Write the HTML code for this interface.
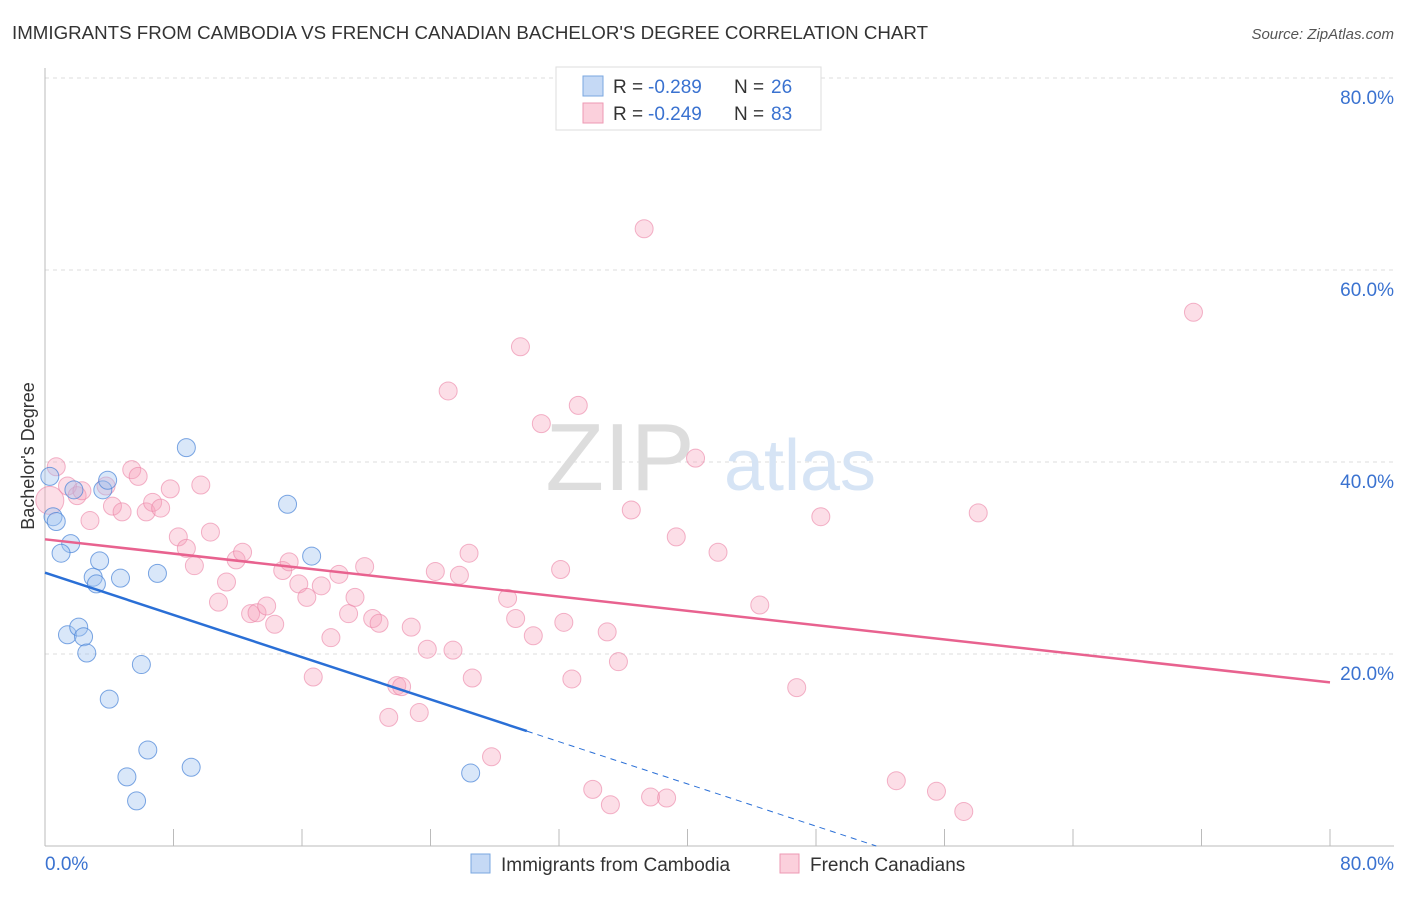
<!DOCTYPE html>
<html><head><meta charset="utf-8"><style>
body{margin:0;background:#fff;font-family:"Liberation Sans",sans-serif;}
svg text{font-family:"Liberation Sans",sans-serif;}
</style></head><body>
<svg width="1406" height="892">
<text x="12" y="39" font-size="18" fill="#333" textLength="916" lengthAdjust="spacingAndGlyphs">IMMIGRANTS FROM CAMBODIA VS FRENCH CANADIAN BACHELOR'S DEGREE CORRELATION CHART</text>
<text x="1394" y="39" font-size="15" fill="#555" text-anchor="end" font-style="italic">Source: ZipAtlas.com</text>
<g id="grid"></g>
<text x="620" y="490" font-size="96" fill="#ddd" font-family="Liberation Serif" text-anchor="middle">ZIP</text>
<text x="800" y="490" font-size="72" fill="#d6e4f5" text-anchor="middle">atlas</text>
<g id="marks"></g>
<text x="34" y="456" font-size="18" fill="#333" transform="rotate(-90 34 456)" text-anchor="middle">Bachelor's Degree</text>
<g>
<rect x="556" y="67" width="265" height="63" fill="#fff" stroke="#ddd"/>
<rect x="583" y="76" width="20" height="20" fill="#c5d9f5" stroke="#7aa7e0"/>
<rect x="583" y="103" width="20" height="20" fill="#fbd0dc" stroke="#ee99b3"/>
<text x="613" y="93" font-size="19" fill="#333">R =</text>
<text x="648" y="93" font-size="19" fill="#3a72d0">-0.289</text>
<text x="734" y="93" font-size="19" fill="#333">N =</text>
<text x="771" y="93" font-size="19" fill="#3a72d0">26</text>
<text x="613" y="120" font-size="19" fill="#333">R =</text>
<text x="648" y="120" font-size="19" fill="#3a72d0">-0.249</text>
<text x="734" y="120" font-size="19" fill="#333">N =</text>
<text x="771" y="120" font-size="19" fill="#3a72d0">83</text>
</g>
<g>
<rect x="471" y="854" width="19" height="19" fill="#c5d9f5" stroke="#7aa7e0"/>
<text x="501" y="871" font-size="19" fill="#333">Immigrants from Cambodia</text>
<rect x="780" y="854" width="19" height="19" fill="#fbd0dc" stroke="#ee99b3"/>
<text x="810" y="871" font-size="19" fill="#333">French Canadians</text>
</g>
</svg>
<script>
const yTicks=[20,40,60,80];
const xTickLabels=["0.0%","80.0%"];
const blueX=[0.3,0.5,0.7,1.8,3.6,3.9,1.6,1.0,3.4,3.0,3.2,4.7,7.0,8.8,15.1,16.6,1.4,2.1,2.4,2.6,6.0,4.0,6.4,5.1,5.7,9.1,26.5];
const blueY=[38.5,34.3,33.8,37.1,37.1,38.1,31.5,30.5,29.7,28.0,27.3,27.9,28.4,41.5,35.6,30.2,22.0,22.8,21.8,20.1,18.9,15.3,10.0,7.2,4.7,8.2,7.6];
const pinkX=[0.7,0.3,1.4,2.0,2.3,2.8,3.8,4.2,4.8,5.4,5.8,6.3,6.7,7.2,7.8,8.3,8.8,9.3,9.7,10.3,10.8,11.3,11.9,12.3,12.8,13.2,13.8,14.3,14.8,15.2,15.8,16.3,16.7,17.2,17.8,18.3,18.9,19.3,19.9,20.4,20.8,21.4,21.9,22.2,22.8,23.3,23.8,24.3,25.4,25.8,26.4,26.6,25.1,27.8,28.8,29.3,29.6,30.4,30.9,32.1,32.3,32.8,33.2,34.1,35.0,35.2,35.7,36.5,37.3,37.7,38.7,39.3,40.5,41.9,44.5,46.8,48.3,53.0,55.5,57.2,58.1,71.5];
const pinkY=[39.5,36.0,37.5,36.5,37.0,33.9,37.5,35.4,34.8,39.2,38.5,34.8,35.8,35.2,37.2,32.2,31.0,29.2,37.6,32.7,25.4,27.5,29.8,30.6,24.2,24.3,25.0,23.1,28.7,29.6,27.3,25.9,17.6,27.1,21.7,28.3,24.2,25.9,29.1,23.7,23.2,13.4,16.7,16.6,22.8,13.9,20.5,28.6,20.4,28.2,30.5,17.5,47.4,9.3,25.8,23.7,52.0,21.9,44.0,28.8,23.3,17.4,45.9,5.9,22.3,4.3,19.2,35.0,64.3,5.1,5.0,32.2,40.4,30.6,25.1,16.5,34.3,6.8,5.7,3.6,34.7,55.6];
const NS='http://www.w3.org/2000/svg';
const X=v=>45+v/80*1285, Y=v=>846-v/20*192;
function mk(tag,attrs,parent){const e=document.createElementNS(NS,tag);for(const k in attrs)e.setAttribute(k,attrs[k]);parent.appendChild(e);return e;}
const grid=document.getElementById('grid'),marks=document.getElementById('marks');
yTicks.forEach(t=>{
 const l=mk('line',{x1:45,x2:1394,y1:Y(t),y2:Y(t),stroke:'#ddd','stroke-dasharray':'4,4'},grid);
 
 
 const tx=mk('text',{x:1394,y:Y(t)+26,'font-size':19,fill:'#3a72d0','text-anchor':'end'},grid);
 tx.textContent=t.toFixed(1)+'%';
 
 
});
const ax=mk('line',{x1:45,x2:1394,y1:846,y2:846,stroke:'#bbb'},grid);


const ay=mk('line',{x1:45,x2:45,y1:68,y2:846,stroke:'#bbb'},grid);


for(let i=1;i<=10;i++){const t=mk('line',{x1:45+i*128.5,x2:45+i*128.5,y1:829,y2:846,stroke:'#bbb'},grid);
 
 }
xTickLabels.forEach((s,i)=>{const t=mk('text',{x:i?1394:45,y:870,'font-size':19,fill:'#3a72d0','text-anchor':i?'end':'start'},grid);t.textContent=s;
 
 });
pinkX.forEach((x,i)=>{const c=mk('circle',{cx:X(x),cy:Y(pinkY[i]),r:i==1?14:9,fill:'rgba(245,160,185,0.35)',stroke:'rgba(235,130,165,0.6)'},marks);
 
 });
blueX.forEach((x,i)=>{const c=mk('circle',{cx:X(x),cy:Y(blueY[i]),r:9,fill:'rgba(160,195,240,0.4)',stroke:'rgba(70,130,215,0.7)'},marks);
 
 });
function fit(xs,ys){const n=xs.length,mx=xs.reduce((a,b)=>a+b)/n,my=ys.reduce((a,b)=>a+b)/n;let sxy=0,sxx=0;xs.forEach((x,i)=>{sxy+=(x-mx)*(ys[i]-my);sxx+=(x-mx)**2});const b=sxy/sxx;return [my-b*mx,b];}
const [pa,pb]=fit(pinkX,pinkY);
const pl=mk('line',{x1:X(0),y1:Y(pa),x2:X(80),y2:Y(pa+pb*80),stroke:'#e8628f','stroke-width':2.5},marks);


const [ba,bb]=fit(blueX,blueY);
const bl=mk('line',{x1:X(0),y1:Y(ba),x2:X(30),y2:Y(ba+bb*30),stroke:'#2a6fd6','stroke-width':2.5},marks);


const xe=Math.min(80,-ba/bb);
const bd=mk('line',{x1:X(30),y1:Y(ba+bb*30),x2:X(xe),y2:Y(ba+bb*xe),stroke:'#2a6fd6','stroke-width':1,'stroke-dasharray':'6,5'},marks);


</script>
</body></html>
